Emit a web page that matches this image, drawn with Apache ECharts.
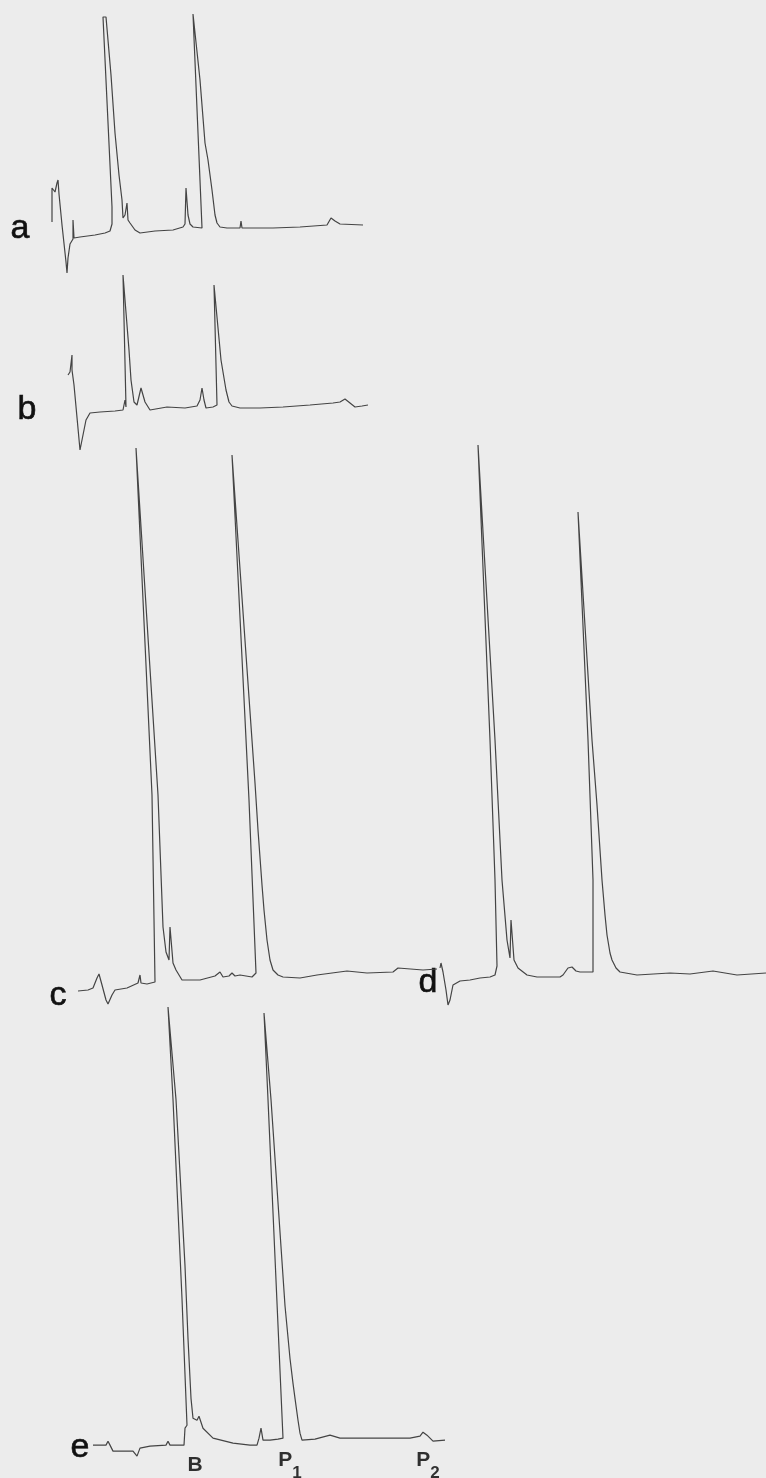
<!DOCTYPE html>
<html>
<head>
<meta charset="utf-8">
<title>Chromatograms a–e</title>
<script src="https://cdn.jsdelivr.net/npm/echarts@6/dist/echarts.min.js"></script>
<style>
  html, body { margin: 0; padding: 0; background: #ececec; }
  #chart { width: 766px; height: 1478px; }
</style>
</head>
<body>
<div id="chart"></div>
<script>
// Recorder traces: [time (chart units), detector deflection (chart units)]
const traceA = [
  [12,38],[12,72],[15,68],[17,77],[18,80],[19,66],[22,35],[26,-2],[27,-13],[28,2],[30,16],[33,21],
  [33,40],[34,22],[40,23],[55,25],[65,27],[70,29],[72,36],[72,53],[63,243],[66,243],[71,185],[75,127],
  [79,85],[82,60],[83,42],[85,45],[87,57],[88,40],[90,37],[95,30],[100,27],[115,29],[133,30],[143,33],
  [145,36],[146,72],[148,45],[150,36],[153,33],[162,32],[153,246],[155,246],[160,180],[165,117],[168,100],
  [172,70],[175,45],[177,37],[180,33],[187,32],[200,32],[201,39],[202,32],[233,32],[260,33],[287,35],
  [291,42],[295,39],[300,36],[323,35]
];
const traceB = [
  [8,85],[10,88],[12,105],[12,90],[14,75],[20,10],[22,20],[26,40],[30,47],[40,48],[55,49],[63,50],
  [65,60],[66,53],[67,55],[63,185],[65,185],[69,110],[71,80],[74,58],[77,55],[81,72],[83,74],[85,58],
  [90,50],[107,53],[125,52],[137,54],[140,60],[142,72],[144,60],[146,52],[153,53],[157,55],
  [154,175],[156,175],[161,100],[163,88],[166,70],[169,58],[172,54],[180,52],[200,52],[223,53],[250,55],
  [273,57],[280,58],[285,61],[290,57],[295,53],[302,54],[308,55]
];
const traceC = [
  [18,19],[28,20],[33,22],[37,32],[39,36],[42,25],[46,10],[48,6],[52,15],[55,20],[67,22],[78,27],
  [80,35],[81,27],[87,26],[95,28],[92,215],[76,562],[78,562],[98,215],[103,83],[106,58],[109,50],
  [110,83],[111,83],[113,47],[116,40],[118,38],[122,30],[140,30],[155,34],[160,38],[163,33],
  [169,34],[172,37],[175,34],[180,35],[192,33],[196,37],[189,210],[172,555],[174,555],[195,227],
  [198,180],[202,125],[204,100],[207,70],[210,50],[213,40],[218,35],[223,33],[240,32],[257,35],
  [287,39],[307,37],[333,38],[338,42],[340,43],[363,40],[377,41]
];
const traceD = [
  [10,42],[11,47],[13,38],[16,20],[18,5],[20,10],[23,25],[30,29],[40,30],[50,32],[60,33],[65,35],
  [67,44],[65,130],[60,270],[48,565],[50,565],[65,270],[72,130],[77,70],[80,52],[81,90],[83,88],
  [84,50],[88,42],[97,35],[107,33],[123,33],[130,33],[133,35],[138,42],[142,43],[146,39],[150,38],
  [163,38],[163,130],[158,270],[148,498],[150,498],[162,270],[167,205],[172,130],[175,95],[177,75],
  [180,57],[182,50],[186,42],[190,38],[207,35],[240,37],[260,36],[283,39],[307,35],[336,37]
];
const traceE = [
  [13,13],[26,13],[28,17],[30,13],[33,7],[45,7],[53,7],[55,9],[57,2],[60,10],[70,12],[86,13],
  [88,17],[90,13],[104,13],[105,30],[107,33],[102,160],[93,360],[88,453],[90,453],[96,360],
  [105,193],[108,120],[111,60],[113,40],[117,38],[119,42],[121,36],[123,30],[133,20],[153,15],[170,13],
  [177,13],[179,20],[181,30],[183,18],[190,18],[198,19],[203,20],[188,360],[184,447],[186,447],
  [191,360],[205,153],[210,100],[213,75],[215,60],[218,38],[220,25],[222,18],[235,19],[250,23],[260,20],
  [287,20],[330,20],[340,22],[343,26],[347,23],[353,17],[365,18]
];

// Peak identifications under trace e
const peakNames = ['B', 'P1', 'P2'];
const peakTimes = [115, 210, 348];

// Trace names
const traceNames = ['a', 'b', 'c', 'd', 'e'];
const traces = [traceA, traceB, traceC, traceD, traceE];

// Panel placement on the page (pixels) and axis ranges (1 unit = 1 px)
const panels = [
  { left: 40,  top: 0,    width: 340, height: 290, xMax: 340, yMin: -30, yMax: 260, label: [20, 229] },
  { left: 60,  top: 260,  width: 320, height: 220, xMax: 320, yMin: -20, yMax: 200, label: [27, 410] },
  { left: 60,  top: 430,  width: 390, height: 600, xMax: 390, yMin: -20, yMax: 580, label: [58, 996] },
  { left: 430, top: 430,  width: 336, height: 600, xMax: 336, yMin: -20, yMax: 580, label: [428, 983] },
  { left: 80,  top: 1000, width: 380, height: 480, xMax: 380, yMin: -20, yMax: 460, label: [80, 1448] }
];

const grid = [], xAxis = [], yAxis = [], series = [];
panels.forEach((p, i) => {
  grid.push({ left: p.left, top: p.top, width: p.width, height: p.height, containLabel: false });
  xAxis.push({ type: 'value', gridIndex: i, min: 0, max: p.xMax, show: false });
  yAxis.push({ type: 'value', gridIndex: i, min: p.yMin, max: p.yMax, show: false });
  series.push({
    name: traceNames[i],
    type: 'line',
    xAxisIndex: i,
    yAxisIndex: i,
    data: traces[i],
    showSymbol: false,
    clip: false,
    silent: true,
    lineStyle: { color: '#444', width: 1.2 }
  });
});

// Peak labels B, P1, P2 below trace e
series.push({
  type: 'scatter',
  xAxisIndex: 4,
  yAxisIndex: 4,
  symbolSize: 0,
  silent: true,
  data: peakNames.map((n, k) => ({ name: n, value: [peakTimes[k], -8] })),
  label: {
    show: true,
    position: 'inside',
    color: '#000',
    textBorderWidth: 0,
    formatter: (d) => {
      const n = d.name;
      return n.length > 1 ? '{p|' + n[0] + '}{s|' + n.slice(1) + '}' : '{p|' + n + '}';
    },
    rich: {
      p: { fontFamily: 'Liberation Sans', fontWeight: 'bold', fontSize: 21, color: '#000', verticalAlign: 'top', lineHeight: 22 },
      s: { fontFamily: 'Liberation Sans', fontWeight: 'bold', fontSize: 17, color: '#000', verticalAlign: 'bottom', lineHeight: 32 }
    }
  }
});

const chart = echarts.init(document.getElementById('chart'), null, { renderer: 'canvas' });
chart.setOption({
  backgroundColor: '#ececec',
  animation: false,
  grid, xAxis, yAxis, series,
  graphic: panels.map((p, i) => ({
    type: 'text',
    x: p.label[0],
    y: p.label[1],
    silent: true,
    style: {
      text: traceNames[i],
      font: '34px "Liberation Sans"',
      fill: '#111',
      stroke: '#111',
      lineWidth: 0.6,
      textAlign: 'center',
      textVerticalAlign: 'middle'
    }
  }))
});
</script>
</body>
</html>
